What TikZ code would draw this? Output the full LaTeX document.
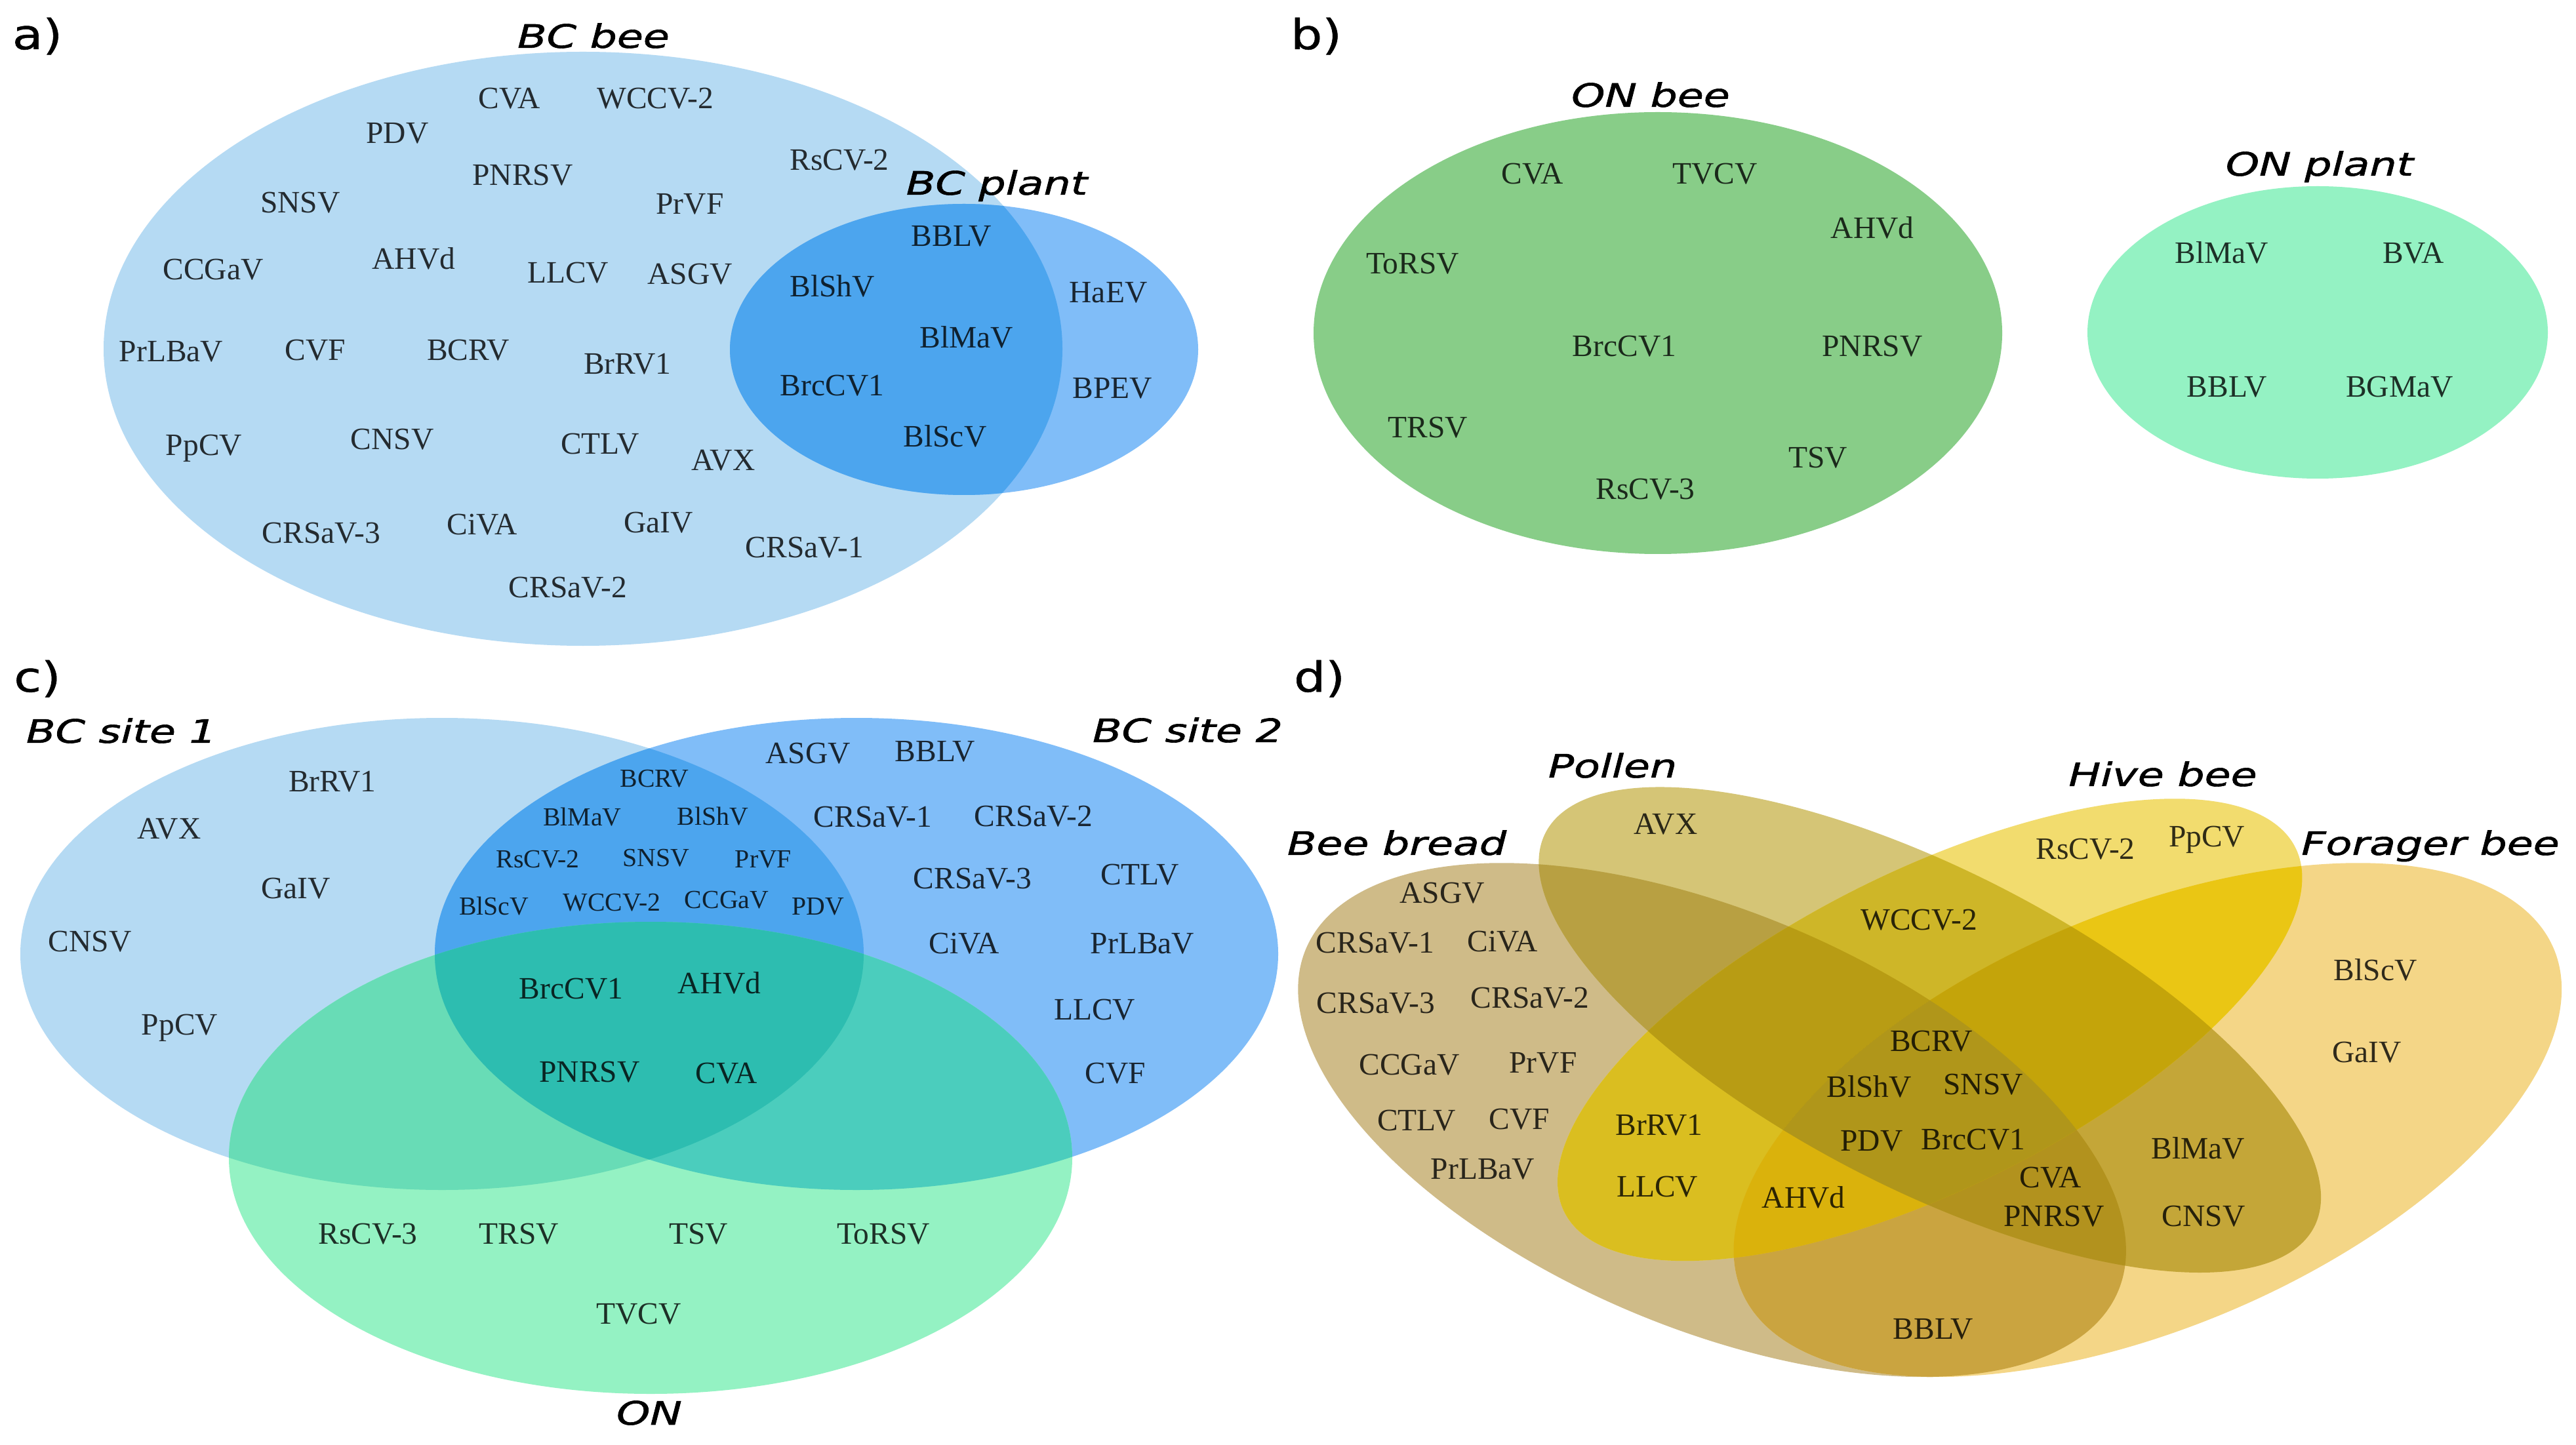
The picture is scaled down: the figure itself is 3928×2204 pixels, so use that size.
\documentclass[tikz,border=0pt]{standalone}
\usepackage{graphicx}
\usepackage{fontspec}
\setmainfont{Liberation Serif}
\newfontfamily\ttlfont[FakeBold=1.2]{DejaVu Sans}
\newfontfamily\pltfont[FakeBold=0.8]{DejaVu Sans}
\newcommand\ttlw[1]{\scalebox{1.32}[1]{#1}}
\newcommand\plw[1]{\scalebox{1.2}[1]{#1}}
% panel a / c colours
\definecolor{cS1}{HTML}{B5DAF3}
\definecolor{cS2}{HTML}{80BDF8}
\definecolor{cON}{HTML}{94F2C3}
\definecolor{cS12}{HTML}{4CA5EE}
\definecolor{cS13}{HTML}{68DCB6}
\definecolor{cS23}{HTML}{4BCDBD}
\definecolor{cS123}{HTML}{2DBDB0}
\definecolor{cONbee}{HTML}{88CD88}
% panel d colours
\definecolor{dB}{HTML}{CFBB88}
\definecolor{dP}{HTML}{D5C576}
\definecolor{dH}{HTML}{F2DC6E}
\definecolor{dF}{HTML}{F4D687}
\definecolor{dBP}{HTML}{B8A042}
\definecolor{dBH}{HTML}{DABE20}
\definecolor{dBF}{HTML}{CAA440}
\definecolor{dPH}{HTML}{CEB628}
\definecolor{dPF}{HTML}{C4A638}
\definecolor{dHF}{HTML}{EAC614}
\definecolor{dBPH}{HTML}{B89C14}
\definecolor{dBPF}{HTML}{B2921E}
\definecolor{dBHF}{HTML}{DAB20C}
\definecolor{dPHF}{HTML}{C4A40A}
\definecolor{dBPHF}{HTML}{B0961A}
\begin{document}
\begin{tikzpicture}[x=0.01cm,y=-0.01cm,
  vl/.style={font=\fontsize{13.5}{14}\selectfont, text=black, text opacity=0.8, inner sep=0pt, text height=8.9pt, text depth=0pt},
  vs/.style={vl, font=\fontsize{11.3}{12}\selectfont, text height=7.5pt},
  ttl/.style={font=\ttlfont\itshape\fontsize{14}{15}\selectfont, text=black, inner sep=0pt, text height=10.2pt, text depth=0pt},
  plab/.style={font=\pltfont\fontsize{18}{19}\selectfont, text=black, inner sep=0pt, anchor=base},
  EB/.style={shift={(0.35,0.47)},rotate=135},
  EP/.style={shift={(0.5,0.57)},rotate=135},
  EH/.style={shift={(0.5,0.57)},rotate=45},
  EF/.style={shift={(0.65,0.47)},rotate=45}
]
\useasboundingbox (0,0) rectangle (3928,2204);
\fill[white] (0,0) rectangle (3928,2204);

% ================= panel a =================
\fill[cS1] (889,532) ellipse [x radius=731, y radius=453];
\fill[cS2] (1470,533) ellipse [x radius=357, y radius=222];
\begin{scope}
  \clip (1470,533) ellipse [x radius=357, y radius=222];
  \fill[cS12] (889,532) ellipse [x radius=731, y radius=453];
\end{scope}
\node[plab] (pa) at (57,75) {\plw{a)}};
\node[ttl] (tBCbee) at (905,55) {\ttlw{BC bee}};
\node[ttl] (tBCplant) at (1520,279) {\ttlw{BC plant}};
\node[vl] (a01) at (777,150) {CVA};
\node[vl] (a02) at (999,150) {WCCV-2};
\node[vl] (a03) at (606,203) {PDV};
\node[vl] (a04) at (1280,244) {RsCV-2};
\node[vl] (a05) at (797,267) {PNRSV};
\node[vl] (a06) at (458,309) {SNSV};
\node[vl] (a07) at (1052,311) {PrVF};
\node[vl] (a08) at (1451,360) {BBLV};
\node[vl] (a09) at (325,411) {CCGaV};
\node[vl] (a10) at (631,395) {AHVd};
\node[vl] (a11) at (866,416) {LLCV};
\node[vl] (a12) at (1052,418) {ASGV};
\node[vl] (a13) at (1269,437) {BlShV};
\node[vl] (a14) at (1690,446) {HaEV};
\node[vl] (a15) at (1474,515) {BlMaV};
\node[vl] (a16) at (261,536) {PrLBaV};
\node[vl] (a17) at (481,534) {CVF};
\node[vl] (a18) at (714,534) {BCRV};
\node[vl] (a19) at (957,555) {BrRV1};
\node[vl] (a20) at (1269,588) {BrcCV1};
\node[vl] (a21) at (1696,592) {BPEV};
\node[vl] (a22) at (311,679) {PpCV};
\node[vl] (a23) at (598,670) {CNSV};
\node[vl] (a24) at (915,677) {CTLV};
\node[vl] (a25) at (1103,702) {AVX};
\node[vl] (a26) at (1441,666) {BlScV};
\node[vl] (a27) at (490,813) {CRSaV-3};
\node[vl] (a28) at (735,800) {CiVA};
\node[vl] (a29) at (1004,797) {GaIV};
\node[vl] (a30) at (1227,835) {CRSaV-1};
\node[vl] (a31) at (866,896) {CRSaV-2};

% ================= panel b =================
\fill[cONbee] (2528,508) ellipse [x radius=525, y radius=337];
\fill[cON] (3534,507) ellipse [x radius=351, y radius=223];
\node[plab] (pb) at (2007,75) {\plw{b)}};
\node[ttl] (tONbee) at (2517,145) {\ttlw{ON bee}};
\node[ttl] (tONplant) at (3537,250) {\ttlw{ON plant}};
\node[vl] (b01) at (2337,265) {CVA};
\node[vl] (b02) at (2615,265) {TVCV};
\node[vl] (b03) at (2855,348) {AHVd};
\node[vl] (b04) at (2154,402) {ToRSV};
\node[vl] (b05) at (2477,528) {BrcCV1};
\node[vl] (b06) at (2855,528) {PNRSV};
\node[vl] (b07) at (2177,652) {TRSV};
\node[vl] (b08) at (2772,698) {TSV};
\node[vl] (b09) at (2509,746) {RsCV-3};
\node[vl] (b10) at (3388,386) {BlMaV};
\node[vl] (b11) at (3680,386) {BVA};
\node[vl] (b12) at (3396,590) {BBLV};
\node[vl] (b13) at (3659,590) {BGMaV};

% ================= panel c =================
\fill[cS1] (674,1455) ellipse [x radius=643, y radius=360];
\fill[cS2] (1306,1455) ellipse [x radius=643, y radius=360];
\fill[cON] (992,1766) ellipse [x radius=643, y radius=360];
\begin{scope}
  \clip (674,1455) ellipse [x radius=643, y radius=360];
  \fill[cS12] (1306,1455) ellipse [x radius=643, y radius=360];
\end{scope}
\begin{scope}
  \clip (674,1455) ellipse [x radius=643, y radius=360];
  \fill[cS13] (992,1766) ellipse [x radius=643, y radius=360];
\end{scope}
\begin{scope}
  \clip (1306,1455) ellipse [x radius=643, y radius=360];
  \fill[cS23] (992,1766) ellipse [x radius=643, y radius=360];
\end{scope}
\begin{scope}
  \clip (674,1455) ellipse [x radius=643, y radius=360];
  \clip (1306,1455) ellipse [x radius=643, y radius=360];
  \fill[cS123] (992,1766) ellipse [x radius=643, y radius=360];
\end{scope}
\node[plab] (pc) at (57,1055) {\plw{c)}};
\node[ttl] (tsite1) at (185,1115) {\ttlw{BC site 1}};
\node[ttl] (tsite2) at (1811,1114) {\ttlw{BC site 2}};
\node[ttl] (tON) at (990,2155) {\ttlw{ON}};
\node[vl] (c01) at (507,1192) {BrRV1};
\node[vl] (c02) at (258,1264) {AVX};
\node[vl] (c03) at (451,1355) {GaIV};
\node[vl] (c04) at (137,1436) {CNSV};
\node[vl] (c05) at (274,1563) {PpCV};
\node[vs] (c06) at (998,1187) {BCRV};
\node[vs] (c07) at (888,1246) {BlMaV};
\node[vs] (c08) at (1087,1245) {BlShV};
\node[vs] (c09) at (820,1310) {RsCV-2};
\node[vs] (c10) at (1000,1308) {SNSV};
\node[vs] (c11) at (1164,1310) {PrVF};
\node[vs] (c12) at (753,1382) {BlScV};
\node[vs] (c13) at (933,1376) {WCCV-2};
\node[vs] (c14) at (1108,1372) {CCGaV};
\node[vs] (c15) at (1247,1382) {PDV};
\node[vl] (c16) at (1232,1149) {ASGV};
\node[vl] (c17) at (1426,1146) {BBLV};
\node[vl] (c18) at (1331,1246) {CRSaV-1};
\node[vl] (c19) at (1576,1245) {CRSaV-2};
\node[vl] (c20) at (1483,1340) {CRSaV-3};
\node[vl] (c21) at (1738,1334) {CTLV};
\node[vl] (c22) at (1470,1439) {CiVA};
\node[vl] (c23) at (1742,1439) {PrLBaV};
\node[vl] (c24) at (1669,1540) {LLCV};
\node[vl] (c25) at (1701,1637) {CVF};
\node[vl] (c26) at (871,1508) {BrcCV1};
\node[vl] (c27) at (1097,1500) {AHVd};
\node[vl] (c28) at (899,1635) {PNRSV};
\node[vl] (c29) at (1108,1637) {CVA};
\node[vl] (c30) at (561,1882) {RsCV-3};
\node[vl] (c31) at (791,1882) {TRSV};
\node[vl] (c32) at (1065,1882) {TSV};
\node[vl] (c33) at (1347,1882) {ToRSV};
\node[vl] (c34) at (974,2004) {TVCV};

% ================= panel d =================
\begin{scope}[x=1cm,y=1cm,shift={(18.345,-23.53)},xscale=22.13,yscale=13.74]
  % single sets
  \fill[dB,EB] (0,0) ellipse [x radius=0.35,y radius=0.2];
  \fill[dP,EP] (0,0) ellipse [x radius=0.35,y radius=0.15];
  \fill[dH,EH] (0,0) ellipse [x radius=0.33,y radius=0.15];
  \fill[dF,EF] (0,0) ellipse [x radius=0.35,y radius=0.2];
  % pairs
  \begin{scope}\clip[EB] (0,0) ellipse [x radius=0.35,y radius=0.2];
    \fill[dBP,EP] (0,0) ellipse [x radius=0.35,y radius=0.15];\end{scope}
  \begin{scope}\clip[EB] (0,0) ellipse [x radius=0.35,y radius=0.2];
    \fill[dBH,EH] (0,0) ellipse [x radius=0.33,y radius=0.15];\end{scope}
  \begin{scope}\clip[EB] (0,0) ellipse [x radius=0.35,y radius=0.2];
    \fill[dBF,EF] (0,0) ellipse [x radius=0.35,y radius=0.2];\end{scope}
  \begin{scope}\clip[EP] (0,0) ellipse [x radius=0.35,y radius=0.15];
    \fill[dPH,EH] (0,0) ellipse [x radius=0.33,y radius=0.15];\end{scope}
  \begin{scope}\clip[EP] (0,0) ellipse [x radius=0.35,y radius=0.15];
    \fill[dPF,EF] (0,0) ellipse [x radius=0.35,y radius=0.2];\end{scope}
  \begin{scope}\clip[EH] (0,0) ellipse [x radius=0.33,y radius=0.15];
    \fill[dHF,EF] (0,0) ellipse [x radius=0.35,y radius=0.2];\end{scope}
  % triples
  \begin{scope}\clip[EB] (0,0) ellipse [x radius=0.35,y radius=0.2];
    \clip[EP] (0,0) ellipse [x radius=0.35,y radius=0.15];
    \fill[dBPH,EH] (0,0) ellipse [x radius=0.33,y radius=0.15];\end{scope}
  \begin{scope}\clip[EB] (0,0) ellipse [x radius=0.35,y radius=0.2];
    \clip[EP] (0,0) ellipse [x radius=0.35,y radius=0.15];
    \fill[dBPF,EF] (0,0) ellipse [x radius=0.35,y radius=0.2];\end{scope}
  \begin{scope}\clip[EB] (0,0) ellipse [x radius=0.35,y radius=0.2];
    \clip[EH] (0,0) ellipse [x radius=0.33,y radius=0.15];
    \fill[dBHF,EF] (0,0) ellipse [x radius=0.35,y radius=0.2];\end{scope}
  \begin{scope}\clip[EP] (0,0) ellipse [x radius=0.35,y radius=0.15];
    \clip[EH] (0,0) ellipse [x radius=0.33,y radius=0.15];
    \fill[dPHF,EF] (0,0) ellipse [x radius=0.35,y radius=0.2];\end{scope}
  % all four
  \begin{scope}\clip[EB] (0,0) ellipse [x radius=0.35,y radius=0.2];
    \clip[EP] (0,0) ellipse [x radius=0.35,y radius=0.15];
    \clip[EH] (0,0) ellipse [x radius=0.33,y radius=0.15];
    \fill[dBPHF,EF] (0,0) ellipse [x radius=0.35,y radius=0.2];\end{scope}
\end{scope}
\node[plab] (pd) at (2012,1055) {\plw{d)}};
\node[ttl] (tPollen) at (2459,1168) {\ttlw{Pollen}};
\node[ttl] (tBread) at (2130,1286) {\ttlw{Bee bread}};
\node[ttl] (tHive) at (3298,1181) {\ttlw{Hive bee}};
\node[ttl] (tForager) at (3706,1286) {\ttlw{Forager bee}};
\node[vl] (d01) at (2540,1257) {AVX};
\node[vl] (d02) at (2199,1362) {ASGV};
\node[vl] (d03) at (2097,1438) {CRSaV-1};
\node[vl] (d04) at (2291,1436) {CiVA};
\node[vl] (d05) at (2098,1530) {CRSaV-3};
\node[vl] (d06) at (2333,1522) {CRSaV-2};
\node[vl] (d07) at (2149,1624) {CCGaV};
\node[vl] (d08) at (2353,1621) {PrVF};
\node[vl] (d09) at (2160,1709) {CTLV};
\node[vl] (d10) at (2317,1707) {CVF};
\node[vl] (d11) at (2261,1783) {PrLBaV};
\node[vl] (d12) at (2530,1716) {BrRV1};
\node[vl] (d13) at (2527,1810) {LLCV};
\node[vl] (d14) at (2750,1827) {AHVd};
\node[vl] (d15) at (2926,1403) {WCCV-2};
\node[vl] (d16) at (2945,1588) {BCRV};
\node[vl] (d17) at (2850,1658) {BlShV};
\node[vl] (d18) at (3024,1654) {SNSV};
\node[vl] (d19) at (2854,1740) {PDV};
\node[vl] (d20) at (3009,1738) {BrcCV1};
\node[vl] (d21) at (3127,1796) {CVA};
\node[vl] (d22) at (3132,1855) {PNRSV};
\node[vl] (d23) at (2948,2027) {BBLV};
\node[vl] (d24) at (3180,1295) {RsCV-2};
\node[vl] (d25) at (3365,1276) {PpCV};
\node[vl] (d26) at (3622,1480) {BlScV};
\node[vl] (d27) at (3609,1605) {GaIV};
\node[vl] (d28) at (3352,1752) {BlMaV};
\node[vl] (d29) at (3360,1855) {CNSV};
\end{tikzpicture}
\end{document}
